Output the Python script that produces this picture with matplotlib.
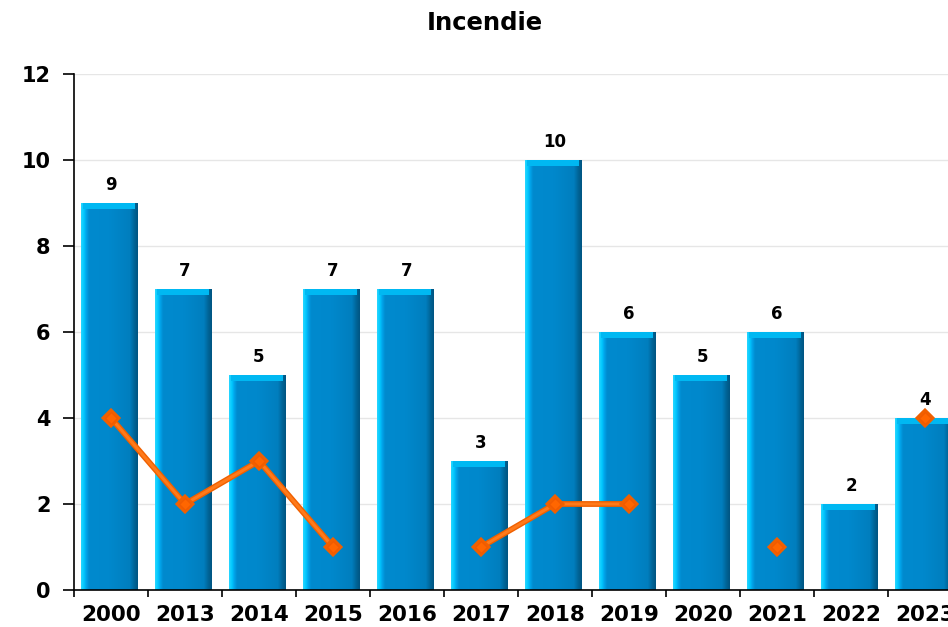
import numpy as np
import matplotlib
matplotlib.use("Agg")
import matplotlib.pyplot as plt
import matplotlib.patheffects as pe

years = ["2000", "2013", "2014", "2015", "2016", "2017", "2018",
         "2019", "2020", "2021", "2022", "2023"]
bar_values = [9, 7, 5, 7, 7, 3, 10, 6, 5, 6, 2, 4]
line_values = [4, 2, 3, 1, np.nan, 1, 2, 2, np.nan, 1, np.nan, 4]

W, H = 948, 627
fig = plt.figure(figsize=(W / 100, H / 100), dpi=100)
# axis runs past the right edge, like the original
ax = fig.add_axes([74 / W, 37 / H, 888 / W, 516 / H])

x = np.arange(len(years))
bars = ax.bar(x - 0.02, bar_values, width=0.76, color="#0088cc", zorder=2)

# horizontal shading: bright edge on left, dark edge on right
grad = np.array([0.0, 0.05, 0.09, 0.14, 0.5, 0.86, 0.94, 1.0])
cols = np.array([[40, 215, 255], [0, 200, 255], [0, 165, 235], [0, 138, 206],
                 [0, 136, 204], [0, 126, 190], [0, 100, 150], [0, 85, 130]]) / 255.0
xs = np.linspace(0, 1, 200)
img = np.stack([np.interp(xs, grad, cols[:, i]) for i in range(3)], axis=-1)[None, :, :]
for b in bars:
    bx, bw, bh = b.get_x(), b.get_width(), b.get_height()
    im = ax.imshow(img, extent=[bx, bx + bw, 0, bh], aspect="auto",
                   zorder=2.1, interpolation="bilinear")
    im.set_clip_path(b)
    # lighter top cap
    ax.fill_between([bx + 0.02, bx + bw - 0.04], bh - 0.13, bh,
                    color="#00b8f2", zorder=2.2, lw=0)
    ax.text(b.get_x() + bw / 2 + 0.02, bh + 0.2, str(int(bh)), ha="center",
            va="bottom", fontsize=12, fontweight="bold", zorder=4)

ax.plot(x, line_values, color="#ff7a1a", lw=2.2, marker="D", ms=6,
        mfc="#ff6600", mec="#f05a00", solid_capstyle="round", zorder=3,
        path_effects=[pe.Stroke(linewidth=4.2, foreground="#f06000"), pe.Normal()])

ax.set_xlim(-0.5, len(years) - 0.5)
ax.set_ylim(0, 12)
ax.set_yticks(range(0, 13, 2))
ax.set_xticks(x)
ax.set_xticklabels(years, fontsize=15.5, fontweight="bold")
ax.set_xticks(np.arange(-0.5, len(years), 1), minor=True)
ax.tick_params(axis="x", which="major", length=0, pad=11)
ax.tick_params(axis="x", which="minor", length=5, width=1.2, direction="out")
ax.tick_params(axis="y", length=8, width=1.2, labelsize=15, pad=9)
for lbl in ax.get_yticklabels():
    lbl.set_fontweight("bold")
ax.grid(axis="y", color="#e6e6e6", lw=1, zorder=0)
ax.set_axisbelow(True)
for s in ("top", "right"):
    ax.spines[s].set_visible(False)
ax.spines["left"].set_linewidth(1.2)
ax.spines["bottom"].set_linewidth(1.2)

fig.text(485 / W, 1 - 23 / H, "Incendie", ha="center", va="center",
         fontsize=17.5, fontweight="bold")

fig.savefig("out.png", dpi=100)
